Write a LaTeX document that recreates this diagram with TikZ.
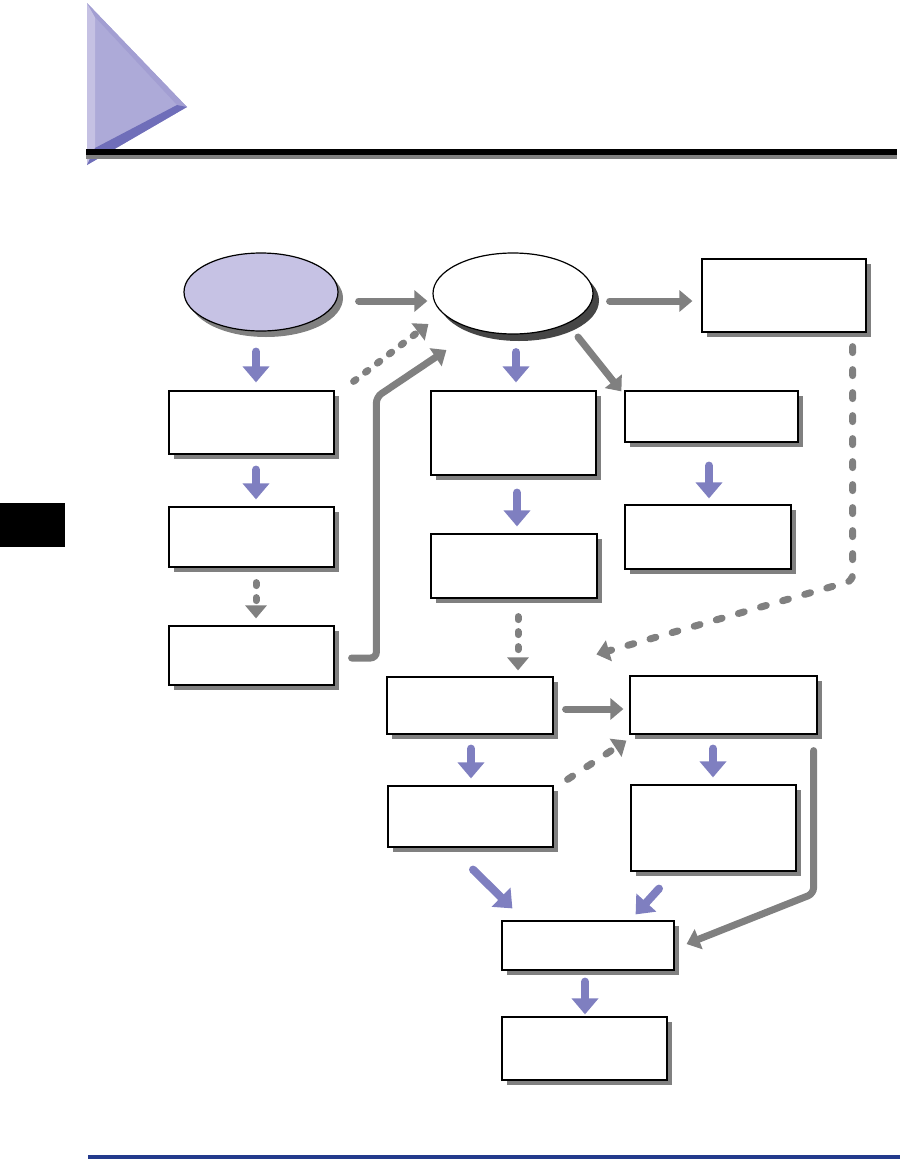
\documentclass[tikz,border=0pt]{standalone}
\usetikzlibrary{arrows.meta,shapes.geometric,shadows}

\definecolor{lilac}{RGB}{198,194,228}
\definecolor{arrowblue}{RGB}{127,127,192}
\definecolor{arrowgray}{RGB}{128,128,128}
\definecolor{shadegray}{RGB}{128,128,128}
\definecolor{shadedark}{RGB}{70,70,70}
\definecolor{navy}{RGB}{35,58,140}
\definecolor{tribase}{RGB}{173,170,216}
\definecolor{trilight}{RGB}{197,193,227}
\definecolor{triupper}{RGB}{162,158,210}
\definecolor{trilower}{RGB}{111,110,185}

\begin{document}
\begin{tikzpicture}[x=1pt,y=-1pt,
  box/.style={draw,line width=1.2pt,fill=white,inner sep=0pt,
    drop shadow={shadow xshift=5pt,shadow yshift=-5pt,fill=shadegray,opacity=1}},
  oval/.style={ellipse,draw,line width=1.2pt,inner sep=0pt},
  bluearrow/.style={draw=arrowblue,line width=8pt,line cap=round,
    -{Triangle[width=26pt,length=16pt]}},
  grayarrow/.style={draw=arrowgray,line width=7pt,line cap=round,
    -{Triangle[width=21pt,length=13pt]}},
  graydash/.style={grayarrow,dash pattern=on 6pt off 17pt},
  graydot/.style={grayarrow,dash pattern=on 3pt off 12pt}]

\useasboundingbox (0,0) rectangle (900,1159);

% heading
\fill[tribase] (87,3) -- (187,107) -- (87,165) -- cycle;
\fill[trilight] (87,3) -- (95,17) -- (95,148) -- (87,165) -- cycle;
\fill[triupper] (87,3) -- (187,107) -- (177,105) -- (95,17) -- cycle;
\fill[trilower] (95,148) -- (177,105) -- (187,107) -- (87,165) -- cycle;
\fill[black] (86,149) rectangle (897,155);
\fill[shadegray] (86,155) rectangle (897,159);
\fill[black] (0,503) rectangle (65,547);
\fill[navy] (88,1155) rectangle (900,1159);

% nodes
\node[oval,fill=lilac,minimum width=154pt,minimum height=78pt,
  drop shadow={shadow xshift=5pt,shadow yshift=-6pt,fill=shadegray,opacity=1}] (e1) at (261,292) {};
\node[oval,fill=white,minimum width=160pt,minimum height=81pt,
  drop shadow={shadow xshift=6pt,shadow yshift=-7pt,fill=shadedark,opacity=1}] (e2) at (513,293.5) {};
\node[box,minimum width=164pt,minimum height=73pt] (tr) at (784,295.5) {};

\node[box,minimum width=165pt,minimum height=63pt] (l1) at (251.5,422.5) {};
\node[box,minimum width=165pt,minimum height=60pt] (l2) at (251.5,537) {};
\node[box,minimum width=165pt,minimum height=59pt] (l3) at (251.5,655.5) {};

\node[box,minimum width=165pt,minimum height=84pt] (m1) at (513.5,433) {};
\node[box,minimum width=166pt,minimum height=64pt] (m2) at (514,566) {};

\node[box,minimum width=173pt,minimum height=51pt] (r1) at (711.5,416.5) {};
\node[box,minimum width=166pt,minimum height=64pt] (r2) at (708,537) {};

\node[box,minimum width=166pt,minimum height=57pt] (b1) at (470,705.5) {};
\node[box,minimum width=187pt,minimum height=58pt] (b2) at (723.5,705) {};
\node[box,minimum width=165pt,minimum height=61pt] (b3) at (470.5,816.5) {};
\node[box,minimum width=165pt,minimum height=86pt] (b4) at (713.5,828) {};
\node[box,minimum width=172pt,minimum height=49pt] (b5) at (588,945.5) {};
\node[box,minimum width=165pt,minimum height=63pt] (b6) at (584.5,1048.5) {};

% connectors
\draw[grayarrow] ([shift={(20,9)}]e1.east) -- ([shift={(-5,7.5)}]e2.west);
\draw[grayarrow] ([shift={(16,7.5)}]e2.east) -- ([shift={(-9,5.5)}]tr.west);
\draw[grayarrow] ([shift={(65,43.5)}]e2.center) -- ([shift={(-3,1)}]r1.north west);

\draw[bluearrow] ([shift={(-5,20)}]e1.south) -- ([shift={(4.5,-8)}]l1.north);
\draw[bluearrow] ([shift={(4.5,15)}]l1.south) -- ([shift={(4.5,-7)}]l2.north);
\draw[graydot] ([shift={(4.5,15)}]l2.south) -- ([shift={(4.5,-7)}]l3.north);
\draw[graydot] ([shift={(19,-9)}]l1.north east) -- ([shift={(-4,30.5)}]e2.west);
\draw[grayarrow,rounded corners=6pt] ([shift={(17,2.5)}]l3.east)
  -| ([shift={(-56,103.5)}]e2.west) -- ([shift={(14,56.5)}]e2.west);

\draw[bluearrow] ([shift={(3,17.5)}]e2.south) -- ([shift={(2.5,-8)}]m1.north);
\draw[bluearrow] ([shift={(3.5,17)}]m1.south) -- ([shift={(3,-7)}]m2.north);
\draw[bluearrow] ([shift={(-2.5,23)}]r1.south) -- ([shift={(1,-6)}]r2.north);

\draw[graydash,rounded corners=6pt] ([shift={(-14,14)}]tr.south east)
  -- ([shift={(-14,248)}]tr.south east) -- ([shift={(-33,-21)}]b2.north west);
\draw[graydot] ([shift={(4,18)}]m2.south) -- ([shift={(48,-6)}]b1.north);

\draw[grayarrow] ([shift={(12,3.5)}]b1.east) -- ([shift={(-6,4)}]b2.west);
\draw[graydash] ([shift={(14,-6)}]b3.north east) -- ([shift={(-3,6)}]b2.south west);
\draw[bluearrow] ([shift={(1,14)}]b1.south) -- ([shift={(0.5,-7)}]b3.north);
\draw[bluearrow] ([shift={(-10.5,14)}]b2.south) -- ([shift={(-0.5,-7)}]b4.north);
\draw[grayarrow,rounded corners=6pt] ([shift={(-4,16)}]b2.south east)
  -- ([shift={(-4,159)}]b2.south east) -- ([shift={(12,-1.5)}]b5.east);

\draw[bluearrow] ([shift={(2.5,22)}]b3.south) -- ([shift={(11,-12)}]b5.north west);
\draw[bluearrow] ([shift={(-54.5,17)}]b4.south) -- ([shift={(-39,-6)}]b5.north east);
\draw[bluearrow] ([shift={(-3,11)}]b5.south) -- ([shift={(0.5,-2)}]b6.north);

\end{tikzpicture}
\end{document}
